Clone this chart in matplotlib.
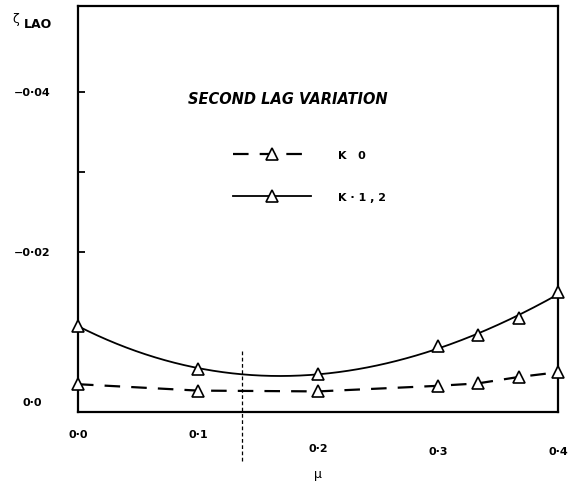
import matplotlib
matplotlib.use("Agg")
import matplotlib.pyplot as plt
from matplotlib.lines import Line2D
import numpy as np

# valeurs (zeta_LAO negatif vers le haut)
mu = [0.0, 0.1, 0.2, 0.3, 0.333, 0.367, 0.4]
zeta_k0 = [-0.0035, -0.0027, -0.0026, -0.0033, -0.0036, -0.0044, -0.0050]
zeta_k12 = [-0.0108, -0.0054, -0.0048, -0.0083, -0.0096, -0.0118, -0.0150]
mu_mark = 0.137  # trait vertical pointille sous l'axe

x_ticks = [0.0, 0.1, 0.2, 0.3, 0.4]
x_labels = ["0·0", "0·1", "0·2", "0·3", "0·4"]
y_ticks = [-0.04, -0.02, 0.0]
y_labels = ["−0·04", "−0·02", "0·0"]
y_minor = [-0.03]

title = "SECOND LAG VARIATION"
labels = ["K   0", "K · 1 , 2"]

plt.rcParams["font.family"] = ["DejaVu Sans"]
fig = plt.figure(figsize=(5.69, 4.89), dpi=100)
ax = fig.add_axes([0.137, 0.155, 0.844, 0.831])

# K = 1,2 : courbe lissee (ajustement polynomial des points lus)
coef = np.polyfit(mu, zeta_k12, 3)
mm = np.linspace(min(mu), max(mu), 200)
ax.plot(mm, np.polyval(coef, mm), color="black", lw=1.3)
ax.plot(mu, zeta_k12, ls="none", marker="^", ms=8, mfc="white", mec="black", mew=1.2, clip_on=False, zorder=3)

# K = 0 : tirets
ax.plot(mu, zeta_k0, color="black", lw=1.6, ls=(0, (7, 5)), marker="^", ms=8,
        mfc="white", mec="black", mew=1.2, clip_on=False, zorder=3)

# trait vertical sous l'axe
ax.plot([mu_mark, mu_mark], [-0.0076, 0.0062], color="black", lw=0.9, ls=(0, (3, 2)), clip_on=False)

ax.set_xlim(0, 0.4)
ax.set_ylim(0, -0.0508)

for s in ax.spines.values():
    s.set_linewidth(1.6)

ax.set_xticks([])
ax.set_yticks(y_ticks[:-1] + y_minor)
ax.set_yticklabels([])
ax.tick_params(axis="y", direction="in", length=5, width=1.3)

# etiquettes faites a la main (decalees comme sur l'original)
x_off = [-16, -16, -26, -28, -28]
for v, lab, dy in zip(x_ticks, x_labels, x_off):
    ax.annotate(lab, (v, 0), xycoords=("data", "axes fraction"), xytext=(0, dy),
                textcoords="offset points", ha="center", va="center",
                fontsize=8, fontweight="bold")
y_off = [0, 0, 7]
for v, lab, dy in zip(y_ticks, y_labels, y_off):
    ax.annotate(lab, (0, v), xycoords=("axes fraction", "data"), xytext=(-33, dy),
                textcoords="offset points", ha="center", va="center",
                fontsize=8, fontweight="bold")

ax.annotate("μ", (0.2, 0), xycoords=("data", "axes fraction"), xytext=(0, -44),
            textcoords="offset points", ha="center", va="center", fontsize=9)
fig.text(16 / 569, 1 - 19 / 489, "ζ", fontsize=9, ha="center", va="center")
fig.text(38 / 569, 1 - 25 / 489, "LAO", fontsize=9, fontweight="bold", ha="center", va="center")

ax.text(0.437, 0.773, title, transform=ax.transAxes, ha="center", va="center",
        fontsize=10.5, fontweight="bold", style="italic")

handles = [
    Line2D([], [], color="black", lw=1.6, ls=(0, (7, 5)), marker="^", ms=8, mfc="white", mec="black", mew=1.2),
    Line2D([], [], color="black", lw=1.3, marker="^", ms=8, mfc="white", mec="black", mew=1.2),
]
leg = ax.legend(handles, labels, loc="upper left", bbox_to_anchor=(0.323, 0.645),
                frameon=False, borderpad=0, borderaxespad=0, handlelength=7.0,
                handletextpad=2.4, labelspacing=2.9, prop={"size": 8, "weight": "bold"})

fig.savefig("out.png", dpi=100)
